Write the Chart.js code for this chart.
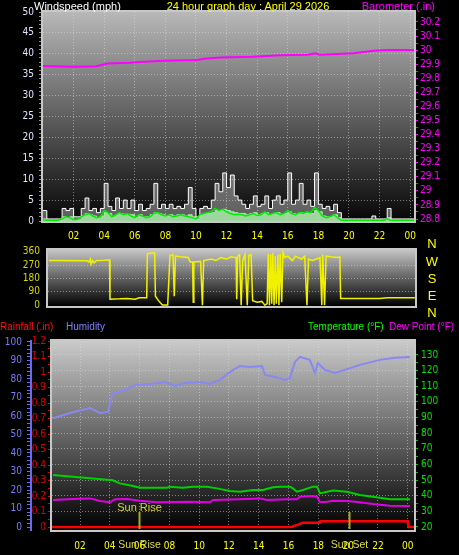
<!DOCTYPE html>
<html><head><meta charset="utf-8">
<script src="https://cdn.jsdelivr.net/npm/chart.js@4/dist/chart.umd.min.js"></script>
<style>
html,body{margin:0;padding:0;background:#000;}
#wrap{position:relative;width:459px;height:555px;background:#000;overflow:hidden;font-family:'Liberation Sans',Arial,sans-serif;}
canvas{position:absolute;}
.t{position:absolute;font-size:11px;white-space:nowrap;line-height:12px;}
.b{position:absolute;font-size:10px;white-space:nowrap;line-height:12px;}
.d{position:absolute;font-size:13px;line-height:14px;width:20px;text-align:center;color:#ffff00;left:422px;}
</style></head><body>
<div id="wrap">
<canvas id="c1" width="459" height="242" style="left:0;top:0"></canvas>
<canvas id="c2" width="459" height="84" style="left:0;top:236px"></canvas>
<canvas id="c3" width="459" height="235" style="left:0;top:320px"></canvas>
<div class="t" style="left:34px;top:0;color:#ffffff">Windspeed (mph)</div>
<div class="t" style="left:128px;width:240px;text-align:center;top:0;color:#ffff00">24 hour graph day : April 29 2026</div>
<div class="t" style="right:24px;top:0;color:#ff00ff">Barometer (.in)</div>
<div class="d" style="top:237px">N</div>
<div class="d" style="top:255px">W</div>
<div class="d" style="top:272px">S</div>
<div class="d" style="top:289px">E</div>
<div class="d" style="top:306px">N</div>
<div class="b" style="left:0;top:321px;color:#ff1010">Rainfall (.in)</div>
<div class="b" style="left:66px;top:321px;color:#8080ff">Humidity</div>
<div class="b" style="left:308px;top:321px;color:#00ff00">Temperature (°F)</div>
<div class="b" style="left:389px;top:321px;color:#ff00ff">Dew Point (°F)</div>
</div>
<script>
// ---------- DATA ----------
const hourTickValues = [2,4,6,8,10,12,14,16,18,20,22,24];
const hourTickLabels = ['02','04','06','08','10','12','14','16','18','20','22','00'];

// barometer (in)
const baroHours  = [0,2,3.5,4.2,5.7,6.3,7.9,10.1,10.5,11.6,13.7,15.5,17.3,17.8,18.1,20.3,21.6,22.5,24.25];
const baroValues = [29.887,29.882,29.885,29.905,29.911,29.916,29.924,29.930,29.939,29.948,29.953,29.963,29.968,29.978,29.968,29.978,29.996,30.001,30.001];

// wind (mph), sampled every 15 minutes from 00:00
const windGust = [2.5,0.5,0.5,0.5,0.5,3,2.5,3,1,1,3,5.5,2.5,3,2,3,9,3.5,2.5,5.5,3,5,3,5,2.5,4,2.5,3,4,9,3,4,3,4,3,3.5,3,4,8,3,1,3,3.5,3,5,9,7,11.5,8,11,6,5,4,3,4,6,3.5,4,6,3,5,6,4,5,11.5,4,5,9,4,5,3.5,11.5,4,3,3.5,2.5,4,2,0.5,0.5,0.5,0.5,0.5,0.5,0.5,0.5,1.2,0.5,0.5,0.5,3,0.5,0.5,0.5,0.5,0.5,0.5,0.5];
const windSpeed = [0.5,0.2,0.2,0.2,0.2,1.0,0.8,1.0,0.3,0.3,1.2,1.8,1.5,1.2,0.8,1.2,2.0,1.8,1.0,1.5,1.8,1.5,1.6,1.5,0.8,1.5,1.0,1.0,1.5,2.0,1.8,1.5,1.2,1.5,1.2,1.5,1.5,1.2,1.5,1.0,0.5,1.5,1.8,1.8,2.0,2.5,2.5,2.8,2.5,2.2,2.0,1.8,1.8,1.5,1.8,2.0,1.5,1.8,2.0,1.5,1.8,2.0,1.6,1.8,2.2,1.8,1.6,2.0,1.8,2.0,1.8,2.5,2.2,1.2,1.0,1.0,1.5,0.8,0.2,0.2,0.2,0.2,0.2,0.2,0.2,0.2,0.3,0.2,0.2,0.2,0.8,0.2,0.2,0.2,0.2,0.2,0.2,0.2];
const windAvg = [0.3,0.2,0.2,0.2,0.2,0.5,1.0,0.8,0.3,0.4,1.0,1.5,1.8,1.2,0.8,1.0,2.5,2.0,1.0,1.5,2.0,1.5,1.8,1.2,0.8,1.5,1.2,0.8,1.0,1.8,2.0,1.5,1.2,1.5,1.0,1.2,1.5,1.2,1.0,0.8,0.5,1.5,1.8,2.0,2.2,3.0,2.5,2.8,2.2,1.8,1.5,1.6,1.5,1.2,1.5,1.8,1.3,1.5,2.2,1.5,1.8,2.0,1.5,1.8,2.5,1.8,1.5,2.0,1.8,2.2,2.0,3.2,2.5,1.2,0.8,1.0,1.5,0.8,0.2,0.1,0.1,0.1,0.1,0.1,0.1,0.1,0.1,0.1,0.1,0.1,0.5,0.1,0.1,0.1,0.1,0.1,0.1,0.1];
const windHours = windGust.map((_, i) => i * 0.25);

// wind direction (degrees)
const dirHours  = [0.39,1.0,2.9,3.0,3.1,3.15,3.25,3.35,3.5,4.0,4.35,4.38,5.0,5.5,6.0,6.3,6.78,6.82,7.1,7.3,7.35,7.55,7.8,8.15,8.3,8.5,8.58,8.66,9.0,9.5,9.62,9.78,9.82,9.86,10.3,10.42,10.5,11.0,11.3,11.6,12.0,12.3,12.62,12.66,12.72,12.85,12.95,13.05,13.2,13.35,13.45,13.6,13.7,14.0,14.3,14.5,14.65,14.72,14.8,14.88,14.95,15.02,15.1,15.18,15.25,15.35,15.42,15.5,15.6,15.68,15.8,16.0,16.3,16.5,16.7,16.9,17.1,17.25,17.35,17.6,18.0,18.1,18.22,18.28,18.4,18.5,18.8,19.2,19.4,19.45,20.0,21.0,22.0,22.5,23.0,24.3];
const dirValues = [300,300,298,290,310,275,300,285,300,302,305,40,42,45,40,50,50,345,350,350,60,30,0,0,335,340,60,330,325,320,290,290,20,290,295,0,300,310,300,320,310,325,320,40,330,340,0,300,340,0,335,340,30,20,25,0,10,345,0,340,10,350,0,330,10,340,0,345,20,355,320,330,300,330,320,310,330,0,310,300,315,320,0,340,0,330,325,320,325,45,45,45,44,50,50,50];
const dirTickValues = [0,90,180,270,360];
const compassLabels = ['N','W','S','E','N'];

// humidity (%)
const humHours  = [0.19,1.33,2.67,3.34,3.88,4.15,5.02,5.69,6.72,7.7,8.37,9.05,10.05,10.72,11.39,12.07,12.74,13.41,14.22,14.42,15.09,15.76,16.09,16.43,16.76,17.43,17.77,17.97,18.44,19.11,19.78,20.79,22.13,23.14,24.15];
const humValues = [58.8,61.6,64.3,61.6,62.2,71.9,74,76.8,77.3,78.4,76.2,77.8,78.4,77.3,79.5,83.8,87,86.5,87,82.2,81.1,79.5,80.5,89.2,91.9,90.3,83.2,88.6,84.9,83.2,84.9,87.6,90.3,91.4,91.9];
// temperature (F)
const tempHours  = [0.19,1.53,2.67,4.01,4.15,4.68,5.56,6.03,7.84,8.04,8.91,9.58,10.52,11.19,12.07,12.74,13.61,14.28,14.95,15.42,16.09,16.29,16.56,16.97,17.64,17.91,18.11,18.58,18.98,19.92,20.79,21.66,22.81,24.15];
const tempValues = [53.2,52.2,51.1,50,50,47.9,46.2,45.1,45.1,45.8,45.1,45.8,45.8,44.7,43,42.6,43.7,43.7,45.4,45.8,45.8,44.7,42.6,43.7,45.8,45.8,41.5,42.6,43.3,42.6,40.5,39.4,37.7,37.7];
// dew point (F)
const dewHours  = [0.19,1.53,2.67,3.34,4.01,4.35,5.15,6.03,7.17,9.38,10.72,10.93,13.21,14.08,14.55,15.89,16.56,16.76,17.64,17.91,18.11,18.58,18.98,19.92,20.79,21.66,22.81,24.15];
const dewValues = [37.3,37.9,38.3,36.6,35.8,37.7,37.9,36.8,35.8,36.2,35.8,37.3,37.9,38.3,37.3,37.7,37.7,39.4,39.8,39.4,35.8,36.2,36.8,36.6,35.8,34.7,33.6,33.4];
// rainfall (in)
const rainHours  = [0.12,16.2,16.35,16.6,16.95,18.1,18.13,24.0,24.05,24.42];
const rainValues = [0,0,0.008,0.014,0.028,0.028,0.037,0.037,0,0];

const humTickValues  = [0,10,20,30,40,50,60,70,80,90,100];
const rainTickValues = [0,0.1,0.2,0.3,0.4,0.5,0.6,0.7,0.8,0.9,1.0,1.1,1.2];
const tempTickValues = [20,30,40,50,60,70,80,90,100,110,120,130];
const windTickValues = [0,5,10,15,20,25,30,35,40,45,50];
const baroTickValues = [28.8,28.9,29.0,29.1,29.2,29.3,29.4,29.5,29.6,29.7,29.8,29.9,30.0,30.1,30.2];

const sunEventHours  = [5.96, 20.05];
const sunEventLabels = ['Sun Rise', 'Sun Set'];

// ---------- HELPERS ----------
const FONT = "'Liberation Sans Narrow','DejaVu Sans Condensed','Liberation Sans',sans-serif";
Chart.defaults.font.family = FONT;
const xy = (hs, vs) => hs.map((h, i) => ({x: h, y: vs[i]}));
const setTicks = vals => s => { s.ticks = vals.map(v => ({value: v})); };
const fixW = w => s => { s.width = w; };
const fixH = h => s => { s.height = h; };
const GRID = 'rgba(225,225,225,0.5)';
const NONE = 'rgba(0,0,0,0)';
function withMinor(major, parts){
  const out = [];
  for (let i = 0; i < major.length; i++) {
    out.push(major[i]);
    if (i < major.length - 1) for (let k = 1; k < parts; k++) out.push(major[i] + (major[i+1]-major[i]) * k / parts);
  }
  return out;
}
const isMajor = (vals, v) => vals.some(m => Math.abs(m - v) < 1e-6);

function bg(c0, c1) {
  return {
    id: 'bg',
    beforeDraw(chart) {
      const {ctx, chartArea: a} = chart;
      const g = ctx.createLinearGradient(0, a.top, 0, a.bottom);
      g.addColorStop(0, c0); g.addColorStop(1, c1);
      ctx.save(); ctx.fillStyle = g;
      ctx.fillRect(a.left, a.top, a.right - a.left, a.bottom - a.top);
      ctx.restore();
    },
    afterDraw(chart) {
      const {ctx, chartArea: a} = chart;
      ctx.save();
      ctx.strokeStyle = '#c8c8c8'; ctx.lineWidth = 2;
      ctx.strokeRect(a.left - 1, a.top - 1, a.right - a.left + 2, a.bottom - a.top + 2);
      ctx.restore();
    }
  };
}
const line = (data, color, width, extra) => Object.assign({data, borderColor: color, borderWidth: width, pointRadius: 0, tension: 0, fill: false}, extra || {});
const baseOpts = {responsive: false, animation: false, events: [], plugins: {legend: {display: false}, tooltip: {enabled: false}}};

// ---------- CHART 1 : wind + barometer ----------
const windMinor = withMinor(windTickValues, 5);
const baroMinor = withMinor(baroTickValues, 2);
new Chart(document.getElementById('c1'), {
  type: 'line',
  data: {datasets: [
    line(xy(baroHours, baroValues), '#ff00ff', 2, {yAxisID: 'yB'}),
    line(xy(windHours, windAvg), '#00ee00', 1.5, {yAxisID: 'yW'}),
    line(xy(windHours, windSpeed), 'rgba(170,235,170,0.95)', 1, {yAxisID: 'yW', stepped: true, fill: 'origin', backgroundColor: 'rgba(170,235,170,0.85)'}),
    line(xy(windHours, windGust), '#ffffff', 1, {yAxisID: 'yW', stepped: true, fill: 'origin', backgroundColor: 'rgba(225,225,225,0.4)'})
  ]},
  options: Object.assign({}, baseOpts, {
    layout: {padding: {top: 12, left: 0, right: 0, bottom: 0}},
    scales: {
      x: {type: 'linear', min: 0, max: 24.25, afterBuildTicks: setTicks(hourTickValues), afterFit: fixH(21),
          ticks: {color: '#ffff00', font: {size: 10}, padding: 9, autoSkip: false, maxRotation: 0, callback: (v, i) => hourTickLabels[i]},
          grid: {color: GRID, drawTicks: false}, border: {display: false, dash: [1, 2]}},
      yW: {position: 'left', min: 0, max: 50, afterBuildTicks: setTicks(windMinor), afterFit: fixW(43),
           ticks: {color: '#dfe6ff', font: {size: 10}, padding: 5, autoSkip: false, callback: v => isMajor(windTickValues, v) ? String(v) : ''},
           grid: {color: c => (c.tick && isMajor(windTickValues, c.tick.value) && c.tick.value > 0 && c.tick.value < 50) ? GRID : NONE, tickColor: '#8c8c8c', tickLength: 4},
           border: {display: false, dash: [1, 2]}},
      yB: {position: 'right', min: 28.786, max: 30.271, afterBuildTicks: setTicks(baroMinor), afterFit: fixW(45),
           ticks: {color: '#ff00ff', font: {size: 10}, padding: 2, autoSkip: false, callback: v => isMajor(baroTickValues, v) ? String(+v.toFixed(1)) : ''},
           grid: {drawOnChartArea: false, tickColor: '#ff00ff', tickLength: 4}, border: {display: false}}
    }
  }),
  plugins: [bg('#b8b8b8', '#060606')]
});

// ---------- CHART 2 : wind direction ----------
new Chart(document.getElementById('c2'), {
  type: 'line',
  data: {datasets: [line(xy(dirHours, dirValues), '#f2f200', 1.5, {yAxisID: 'yD'})]},
  options: Object.assign({}, baseOpts, {
    layout: {padding: {top: 8, left: 0, right: 44, bottom: 9}},
    scales: {
      x: {type: 'linear', min: 0.33, max: 24.31, display: false},
      yD: {position: 'left', min: -6, max: 371, afterBuildTicks: setTicks(dirTickValues), afterFit: fixW(48),
           ticks: {color: '#d8d800', font: {size: 10}, padding: 8, autoSkip: false, callback: v => String(v)},
           grid: {color: c => (c.tick && c.tick.value > 0 && c.tick.value < 360) ? GRID : NONE, drawTicks: false},
           border: {display: false, dash: [1, 2]}}
    }
  }),
  plugins: [bg('#c4c4c4', '#000000')]
});

// ---------- CHART 3 : rain, humidity, temperature, dew point ----------
const sunPlugin = {
  id: 'sun',
  afterDraw(chart) {
    const {ctx, chartArea: a, scales: {x}} = chart;
    ctx.save();
    ctx.textAlign = 'center'; ctx.textBaseline = 'middle';
    sunEventHours.forEach((h, i) => {
      const px = Math.round(x.getPixelForValue(h)) + 0.5;
      ctx.strokeStyle = '#a8a828'; ctx.lineWidth = 2;
      ctx.beginPath(); ctx.moveTo(px, a.bottom - 18); ctx.lineTo(px, a.bottom - 1); ctx.stroke();
      ctx.fillStyle = '#d4d43c';
      ctx.font = "11px 'Liberation Sans', sans-serif";
      if (i === 0) ctx.fillText(sunEventLabels[i], px, a.bottom - 22);
      ctx.fillStyle = '#dede40';
      ctx.font = "10.5px 'Liberation Sans', sans-serif";
      ctx.fillText(sunEventLabels[i], px, a.bottom + 15);
    });
    ctx.restore();
  }
};
const humMinor = withMinor(humTickValues, 5);
const rainMinor = withMinor(rainTickValues, 2);
const tempMinor = withMinor(tempTickValues, 2);
new Chart(document.getElementById('c3'), {
  type: 'line',
  data: {datasets: [
    line(xy(rainHours, rainValues), '#ff0000', 2.5, {yAxisID: 'yR'}),
    line(xy(tempHours, tempValues), '#00d000', 2, {yAxisID: 'yT'}),
    line(xy(dewHours, dewValues), '#e000e0', 2, {yAxisID: 'yT'}),
    line(xy(humHours, humValues), '#8888f4', 2, {yAxisID: 'yH'})
  ]},
  options: Object.assign({}, baseOpts, {
    layout: {padding: {top: 21, left: 0, right: 0, bottom: 0}},
    scales: {
      x: {type: 'linear', min: 0.12, max: 24.42, afterBuildTicks: setTicks(hourTickValues), afterFit: fixH(25),
          ticks: {color: '#ffff00', font: {size: 10}, padding: 10, autoSkip: false, maxRotation: 0, callback: (v, i) => hourTickLabels[i]},
          grid: {color: GRID, drawTicks: false}, border: {display: false, dash: [1, 2]}},
      yH: {position: 'left', weight: 2, min: -1.6, max: 100.5, afterBuildTicks: setTicks(humMinor), afterFit: fixW(31),
           ticks: {color: '#7b7bff', font: {size: 10}, padding: 5, autoSkip: false, callback: v => isMajor(humTickValues, v) ? String(v) : ''},
           grid: {drawOnChartArea: false, tickColor: '#6a6af0', tickLength: 4},
           border: {display: true, color: '#6a6af0', width: 2}},
      yR: {position: 'left', weight: 1, min: -0.019, max: 1.2, afterBuildTicks: setTicks(rainMinor), afterFit: fixW(21),
           ticks: {color: '#e00000', font: {size: 10}, padding: 2, autoSkip: false, callback: v => isMajor(rainTickValues, v) ? String(+v.toFixed(1)) : ''},
           grid: {drawOnChartArea: false, tickColor: '#e00000', tickLength: 4},
           border: {display: false}},
      yT: {position: 'right', min: 18.08, max: 138.95, afterBuildTicks: setTicks(tempMinor), afterFit: fixW(45),
           ticks: {color: '#00e000', font: {size: 10}, padding: 3, autoSkip: false, callback: v => isMajor(tempTickValues, v) ? String(v) : ''},
           grid: {color: c => (c.tick && isMajor(tempTickValues, c.tick.value) && c.tick.value > 20) ? GRID : NONE, tickColor: '#00c000', tickLength: 4},
           border: {display: false, dash: [1, 2]}}
    }
  }),
  plugins: [bg('#cacaca', '#000000'), sunPlugin]
});
</script>
</body></html>
